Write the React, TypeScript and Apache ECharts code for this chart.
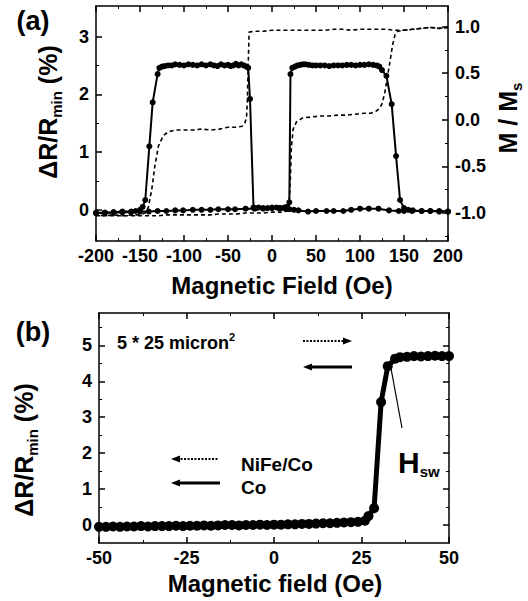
import React, { useEffect, useRef } from "react";
import * as echarts from "echarts";

const FONT = '"Liberation Sans", Arial, Helvetica, sans-serif';

// ---------- Panel (a): ΔR/Rmin (%) vs field, descending branch ----------
const dRdownH = [200, 190, 180, 170, 159, 150, 144, 133, 121, 110, 100, 90, 81, 70, 62, 50, 41, 30, 25, 20, 15, 10, 5, 0, -5, -10, -15, -18, -21, -25, -27, -29, -32, -35, -38, -41, -44, -47, -50, -54, -58, -62, -66, -70, -75, -80, -85, -90, -95, -100, -105, -110, -114, -118, -122, -125, -128, -130, -135.6, -139.4, -144, -147, -150, -155, -160, -170, -180, -190, -200];
const dRdownV = [-0.03, -0.02, -0.02, -0.02, -0.02, -0.02, -0.02, -0.01, 0.02, 0.02, 0.02, 0.0, -0.02, -0.02, -0.02, -0.02, -0.03, -0.01, 0.0, 0.01, 0.02, 0.03, 0.04, 0.04, 0.03, 0.03, 0.04, 0.03, 0.04, 1.92, 2.46, 2.48, 2.5, 2.52, 2.5, 2.53, 2.5, 2.49, 2.51, 2.5, 2.52, 2.49, 2.5, 2.52, 2.5, 2.52, 2.5, 2.51, 2.52, 2.5, 2.51, 2.52, 2.5, 2.5, 2.49, 2.48, 2.46, 2.35, 1.86, 1.1, 0.17, 0.05, 0.0, -0.02, -0.03, -0.03, -0.04, -0.05, -0.05];

// ---------- Panel (a): ΔR/Rmin (%) ascending branch ----------
const dRupH = [-200, -190, -180, -170, -160, -150, -140, -130, -120, -110, -101, -90, -80, -70, -61, -50, -42, -30, -20, -10, 0, 8, 14, 17, 19.7, 21, 23, 26, 29, 32, 35, 38, 42, 46, 50, 55, 60, 65, 70, 75, 80, 85, 90, 95, 100, 105, 110, 115, 119, 122, 125, 130, 136, 141, 145.5, 150, 155, 160, 170, 180, 190, 200];
const dRupV = [-0.06, -0.05, -0.05, -0.04, -0.04, -0.03, -0.03, -0.02, -0.02, -0.01, -0.01, 0.0, 0.0, 0.0, 0.01, 0.01, 0.01, 0.02, 0.02, 0.02, 0.03, 0.03, 0.04, 0.05, 0.13, 2.35, 2.46, 2.48, 2.5, 2.51, 2.52, 2.52, 2.51, 2.5, 2.5, 2.5, 2.5, 2.49, 2.5, 2.5, 2.5, 2.51, 2.51, 2.5, 2.51, 2.51, 2.52, 2.51, 2.5, 2.48, 2.42, 2.32, 1.83, 0.93, 0.17, 0.03, 0.0, -0.01, -0.02, -0.02, -0.03, -0.03];

// ---------- Panel (a): M/Ms descending branch ----------
const mDownH = [200, 190, 180, 170, 160, 150, 140, 130, 120, 110, 100, 90, 80, 70, 60, 50, 40, 30, 20, 10, 0, -10, -20, -26, -27, -28, -29, -31, -34, -40, -50, -60, -70, -80, -90, -100, -110, -118, -123.5, -129, -133, -136.7, -140.5, -144, -150, -160, -170, -180, -190, -200];
const mDownV = [0.99, 0.98, 0.99, 0.98, 0.97, 0.96, 0.96, 0.97, 0.97, 0.97, 0.97, 0.96, 0.97, 0.97, 0.96, 0.96, 0.96, 0.96, 0.96, 0.96, 0.96, 0.95, 0.95, 0.94, 0.6, 0.2, 0.02, -0.04, -0.07, -0.08, -0.08, -0.1, -0.11, -0.1, -0.11, -0.11, -0.11, -0.13, -0.17, -0.28, -0.49, -0.75, -0.94, -1.0, -1.02, -1.02, -1.03, -1.02, -1.03, -1.02];

// ---------- Panel (a): M/Ms ascending branch ----------
const mUpH = [-200, -190, -180, -170, -160, -150, -140, -130, -120, -110, -100, -90, -80, -70, -60, -50, -40, -30, -20, -10, 0, 10, 17, 19, 21, 22, 24, 28, 35, 45, 55, 65, 75, 85, 95, 105, 112, 118, 122, 125, 128, 131, 134, 137, 140, 143, 150, 160, 170, 180, 190, 200];
const mUpV = [-1.03, -1.03, -1.03, -1.03, -1.03, -1.03, -1.03, -1.03, -1.02, -1.02, -1.02, -1.02, -1.02, -1.02, -1.01, -1.01, -1.01, -1.0, -1.0, -1.0, -0.99, -0.99, -0.98, -0.98, -0.6, -0.3, -0.1, -0.02, 0.02, 0.03, 0.04, 0.04, 0.05, 0.05, 0.06, 0.07, 0.07, 0.09, 0.12, 0.17, 0.28, 0.45, 0.62, 0.8, 0.92, 0.95, 0.96, 0.97, 0.98, 0.99, 0.98, 0.99];

// ---------- Panel (b): ΔR/Rmin (%) ----------
const bH = [-50, -48, -46, -44, -42, -40, -38, -36, -34, -32, -30, -28, -26, -24, -22, -20, -18, -16, -14, -12, -10, -8, -6, -4, -2, 0, 2, 4, 6, 8, 10, 12, 14, 16, 18, 20, 22, 24, 26, 27, 28.6, 30.6, 32.5, 34.6, 36, 38, 40, 42, 44, 46, 48, 50];
const bV = [-0.05, -0.05, -0.04, -0.05, -0.04, -0.04, -0.03, -0.04, -0.03, -0.03, -0.03, -0.02, -0.03, -0.02, -0.02, -0.01, -0.02, -0.01, 0.0, 0.0, -0.01, 0.0, 0.0, 0.01, 0.0, 0.01, 0.01, 0.02, 0.02, 0.03, 0.03, 0.04, 0.05, 0.05, 0.06, 0.07, 0.08, 0.09, 0.12, 0.25, 0.47, 3.42, 4.42, 4.63, 4.67, 4.68, 4.7, 4.69, 4.7, 4.71, 4.7, 4.7];

// ---------- tick labels ----------
const aLeftTicks = [0, 1, 2, 3];
const aLeftMinor = [0.5, 1.5, 2.5];
const aRightTicks = [-1, -0.5, 0, 0.5, 1];
const aRightMinor = [-1.25, -0.75, -0.25, 0.25, 0.75];
const bLeftTicks = [0, 1, 2, 3, 4, 5];
const bLeftMinor = [0.5, 1.5, 2.5, 3.5, 4.5, 5.5];

const zip = (xs: number[], ys: number[]) => xs.map((x, i) => [x, ys[i]]);

const BLACK = "#000";
const labelStyle = { color: BLACK, fontSize: 18, fontWeight: "bold" as const, fontFamily: FONT };
const lineSt = { color: BLACK, width: 1.5 };

function xAx(gridIndex: number, min: number, max: number, interval: number, top: boolean) {
  return {
    type: "value",
    gridIndex,
    position: top ? "top" : "bottom",
    min,
    max,
    interval,
    axisLine: { show: true, onZero: false, lineStyle: lineSt },
    axisTick: { show: true, inside: true, length: 6, lineStyle: lineSt },
    minorTick: { show: true, splitNumber: 2, length: 3, lineStyle: { color: BLACK, width: 1 } },
    axisLabel: top ? { show: false } : { ...labelStyle, margin: 6 },
    splitLine: { show: false },
    minorSplitLine: { show: false },
  };
}

function yAx(gridIndex: number, min: number, max: number, right: boolean, ticks: number[], labels: boolean, line: boolean, len: number, fmt?: (v: number) => string) {
  return {
    type: "value",
    gridIndex,
    position: right ? "right" : "left",
    min,
    max,
    axisLine: { show: line, onZero: false, lineStyle: lineSt },
    axisTick: { show: true, inside: true, length: len, customValues: ticks, lineStyle: len > 4 ? lineSt : { color: BLACK, width: 1 } },
    axisLabel: labels
      ? { ...labelStyle, margin: 7, customValues: ticks, formatter: fmt || ((v: number) => String(v)) }
      : { show: false },
    splitLine: { show: false },
  };
}

function arrow(x1: number, x2: number, y: number, tipLeft: boolean, dotted: boolean) {
  const tip = tipLeft ? x1 : x2;
  const d = tipLeft ? 9 : -9;
  return [
    {
      type: "line",
      shape: { x1: tipLeft ? x1 + 6 : x1, y1: y, x2: tipLeft ? x2 : x2 - 6, y2: y },
      style: dotted ? { stroke: BLACK, lineWidth: 2, lineDash: [2, 1.5] } : { stroke: BLACK, lineWidth: 3 },
    },
    {
      type: "polygon",
      shape: { points: [[tip, y], [tip + d, y - 3.5], [tip + d, y + 3.5]] },
      style: { fill: BLACK },
    },
  ];
}

function rotTitle(x: number, y: number, main1: string, sub: string, main2: string, size: number, subSize: number) {
  return {
    type: "text",
    x,
    y,
    rotation: Math.PI / 2,
    style: {
      text: `{m|${main1}}{s|${sub}}{m|${main2}}`,
      align: "center",
      verticalAlign: "middle",
      rich: {
        m: { fontSize: size, fontWeight: "bold", fontFamily: FONT, fill: BLACK },
        s: { fontSize: subSize, fontWeight: "bold", fontFamily: FONT, fill: BLACK, padding: [16, 0, 0, 0] },
      },
    },
  };
}

export default function App() {
  const ref = useRef<HTMLDivElement>(null);
  useEffect(() => {
    if (!ref.current) return;
    const chart = echarts.init(ref.current, null, { renderer: "svg" });
    const option: any = {
      animation: false,
      backgroundColor: "#fff",
      grid: [
        { left: 96, top: 6, width: 352, height: 235, containLabel: false },
        { left: 99, top: 313, width: 350, height: 230, containLabel: false },
      ],
      xAxis: [
        xAx(0, -200, 200, 50, false),
        xAx(0, -200, 200, 50, true),
        xAx(1, -50, 50, 25, false),
        xAx(1, -50, 50, 25, true),
      ],
      yAxis: [
        yAx(0, -0.54, 3.53, false, aLeftTicks, true, true, 6),
        yAx(0, -0.54, 3.53, false, aLeftMinor, false, false, 3),
        yAx(0, -1.3, 1.22, true, aRightTicks, true, true, 6, (v: number) => v.toFixed(1)),
        yAx(0, -1.3, 1.22, true, aRightMinor, false, false, 3),
        yAx(1, -0.5, 5.9, false, bLeftTicks, true, true, 6),
        yAx(1, -0.5, 5.9, false, bLeftMinor, false, false, 3),
        yAx(1, -0.5, 5.9, true, bLeftTicks, false, true, 6),
        yAx(1, -0.5, 5.9, true, bLeftMinor, false, false, 3),
      ],
      series: [
        {
          type: "line", name: "dR down", xAxisIndex: 0, yAxisIndex: 0, data: zip(dRdownH, dRdownV),
          symbol: "circle", symbolSize: 6, lineStyle: { color: BLACK, width: 2 }, itemStyle: { color: BLACK }, silent: true,
        },
        {
          type: "line", name: "dR up", xAxisIndex: 0, yAxisIndex: 0, data: zip(dRupH, dRupV),
          symbol: "circle", symbolSize: 6, lineStyle: { color: BLACK, width: 2 }, itemStyle: { color: BLACK }, silent: true,
        },
        {
          type: "line", name: "M down", xAxisIndex: 0, yAxisIndex: 2, data: zip(mDownH, mDownV),
          symbol: "none", lineStyle: { color: BLACK, width: 1.6, type: [4, 3] }, silent: true,
        },
        {
          type: "line", name: "M up", xAxisIndex: 0, yAxisIndex: 2, data: zip(mUpH, mUpV),
          symbol: "none", lineStyle: { color: BLACK, width: 1.6, type: [4, 3] }, silent: true,
        },
        {
          type: "line", name: "Co", xAxisIndex: 2, yAxisIndex: 4, data: zip(bH, bV),
          symbol: "circle", symbolSize: 10, lineStyle: { color: BLACK, width: 5 }, itemStyle: { color: BLACK }, silent: true,
        },
      ],
      graphic: [
        { type: "text", x: 33, y: 21, style: { text: "(a)", fontSize: 27, fontWeight: "bold", fontFamily: FONT, fill: BLACK, align: "center", verticalAlign: "middle" } },
        { type: "text", x: 33, y: 332, style: { text: "(b)", fontSize: 27, fontWeight: "bold", fontFamily: FONT, fill: BLACK, align: "center", verticalAlign: "middle" } },
        { type: "text", x: 282, y: 285, style: { text: "Magnetic Field (Oe)", fontSize: 24, fontWeight: "bold", fontFamily: FONT, fill: BLACK, align: "center", verticalAlign: "middle" } },
        { type: "text", x: 275, y: 583, style: { text: "Magnetic field (Oe)", fontSize: 24, fontWeight: "bold", fontFamily: FONT, fill: BLACK, align: "center", verticalAlign: "middle" } },
        rotTitle(48, 112, "ΔR/R", "min", " (%)", 25, 15),
        rotTitle(508, 118, "M / M", "s", "", 25, 15),
        rotTitle(24, 450, "ΔR/R", "min", " (%)", 25, 15),
        {
          type: "text", x: 117, y: 343,
          style: {
            text: "{t|5 * 25 micron}{p|2}", align: "left", verticalAlign: "middle",
            rich: {
              t: { fontSize: 18, fontWeight: "bold", fontFamily: FONT, fill: BLACK },
              p: { fontSize: 11, fontWeight: "bold", fontFamily: FONT, fill: BLACK, padding: [0, 0, 12, 0] },
            },
          },
        },
        ...arrow(303, 352, 341, false, true),
        ...arrow(303, 352, 367, true, false),
        ...arrow(171, 218, 459, true, true),
        ...arrow(171, 220, 483, true, false),
        { type: "text", x: 241, y: 464, style: { text: "NiFe/Co", fontSize: 19, fontWeight: "bold", fontFamily: FONT, fill: BLACK, align: "left", verticalAlign: "middle" } },
        { type: "text", x: 241, y: 487, style: { text: "Co", fontSize: 19, fontWeight: "bold", fontFamily: FONT, fill: BLACK, align: "left", verticalAlign: "middle" } },
        {
          type: "text", x: 398, y: 462,
          style: {
            text: "{h|H}{s|sw}", align: "left", verticalAlign: "middle",
            rich: {
              h: { fontSize: 30, fontWeight: "bold", fontFamily: FONT, fill: BLACK },
              s: { fontSize: 15, fontWeight: "bold", fontFamily: FONT, fill: BLACK, padding: [18, 0, 0, 0] },
            },
          },
        },
        { type: "line", shape: { x1: 390, y1: 363, x2: 402, y2: 428 }, style: { stroke: BLACK, lineWidth: 1.2 } },
      ],
    };
    chart.setOption(option);
    return () => chart.dispose();
  }, []);
  return <div ref={ref} style={{ position: "absolute", left: 0, top: 0, width: 528, height: 601 }} />;
}
